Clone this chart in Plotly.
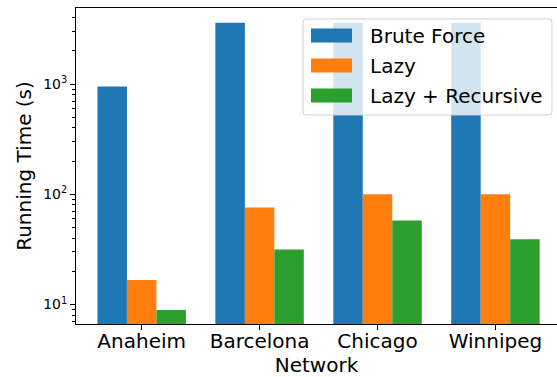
import plotly.graph_objects as go

# Running times (seconds) per network and method
networks = ["Anaheim", "Barcelona", "Chicago", "Winnipeg"]
brute_force = [950, 3600, 3600, 3600]
lazy = [16.7, 76, 100, 100]
lazy_recursive = [8.9, 31.6, 58, 39]

series_names = ["Brute Force", "Lazy", "Lazy + Recursive"]
series_colors = ["#1f77b4", "#ff7f0e", "#2ca02c"]
series_values = [brute_force, lazy, lazy_recursive]

W, H = 557, 377
L, R, T, B = 76, 557, 8, 324  # plot area in pixels

FONT = "DejaVu Sans"

fig = go.Figure()
x_idx = list(range(len(networks)))
for name, color, vals in zip(series_names, series_colors, series_values):
    fig.add_trace(go.Bar(x=x_idx, y=vals, name=name, marker=dict(color=color, line=dict(width=0)),
                         showlegend=False))


def px_x(p):
    return (p - L) / (R - L)


def px_y(p):
    return (B - p) / (B - T)


# Legend box (semi-transparent, rounded corners)
bx0, bx1, by0, by1 = 303, 552, 19, 115
r = 3
rx, ry = r / (R - L), r / (B - T)
x0, x1, y0, y1 = px_x(bx0), px_x(bx1), px_y(by1), px_y(by0)
path = (f"M{x0+rx},{y0} L{x1-rx},{y0} Q{x1},{y0} {x1},{y0+ry} L{x1},{y1-ry} Q{x1},{y1} {x1-rx},{y1} "
        f"L{x0+rx},{y1} Q{x0},{y1} {x0},{y1-ry} L{x0},{y0+ry} Q{x0},{y0} {x0+rx},{y0} Z")
shapes = [dict(type="path", path=path, xref="paper", yref="paper",
               fillcolor="rgba(255,255,255,0.8)", line=dict(color="#d0d0d0", width=1), layer="above")]
annotations = []
row_centers = [35.5, 65.5, 95.5]
for name, color, cy in zip(series_names, series_colors, row_centers):
    shapes.append(dict(type="rect", xref="paper", yref="paper",
                       x0=px_x(311), x1=px_x(352), y0=px_y(cy + 7), y1=px_y(cy - 7),
                       fillcolor=color, line=dict(width=0), layer="above"))
    annotations.append(dict(text=name, xref="paper", yref="paper", x=px_x(368), y=px_y(cy),
                            xanchor="left", yanchor="middle", showarrow=False,
                            font=dict(family=FONT, size=20, color="black")))

minor_vals = [7, 8, 9] + [k * 10 for k in range(2, 10)] + [k * 100 for k in range(2, 10)] + [2000, 3000, 4000]

fig.update_layout(
    width=W, height=H,
    margin=dict(l=L, r=W - R, t=T, b=H - B),
    paper_bgcolor="white", plot_bgcolor="white",
    barmode="group", bargap=0.25, bargroupgap=0,
    font=dict(family=FONT, color="black"),
    shapes=shapes, annotations=annotations,
    xaxis=dict(
        range=[-0.557, 3.522], tickvals=x_idx, ticktext=networks,
        tickfont=dict(size=20), ticks="outside", ticklen=5, tickcolor="black",
        ticklabelstandoff=-6,
        showline=True, linecolor="black", linewidth=1, mirror=True,
        showgrid=False, zeroline=False,
        title=dict(text="Network", font=dict(size=20), standoff=10),
    ),
    yaxis=dict(
        type="log", range=[0.823, 3.691],
        tickvals=[10, 100, 1000], ticktext=["10<sup>1</sup>", "10<sup>2</sup>", "10<sup>3</sup>"],
        tickfont=dict(size=14), ticks="outside", ticklen=5, tickcolor="black",
        minor=dict(tickmode="array", tickvals=minor_vals, ticks="outside", ticklen=3, tickcolor="black"),
        showline=True, linecolor="black", linewidth=1,
        showgrid=False, zeroline=False,
        title=dict(text="Running Time (s)", font=dict(size=20), standoff=6),
    ),
)

fig.write_html("out.html")
